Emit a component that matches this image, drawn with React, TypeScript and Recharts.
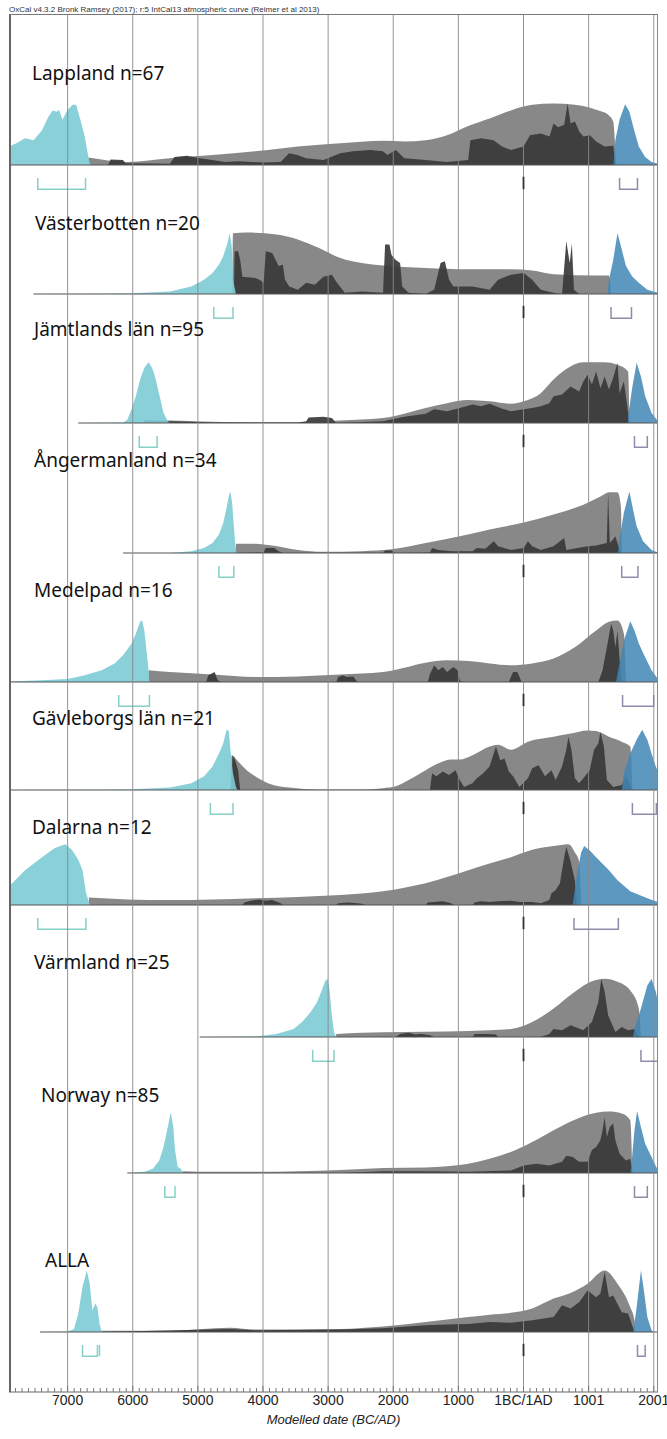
import React from "react";
import { ComposedChart, Area, Line, XAxis, YAxis, ReferenceLine } from "recharts";

type Pt = [number, number];

const W = 667;
const H = 1439;
const PLOT_LEFT = 9;
const PLOT_RIGHT = 658;
const PLOT_TOP = 14;
const PLOT_BOTTOM = 1392;
const X_MIN = -7900;
const X_MAX = 2065;
const UNIT_PX = 0.62; // px per density unit, 100 = tallest peak
const BRACKET_TOP = -21;
const BRACKET_BOTTOM = -39;

const CYAN = "#7ccbd5";
const GRAY = "#7b7b7b";
const DARK = "#383838";
const BLUE = "#3f86b4";
const CYAN_BRACKET = "#86d0c8";
const END_BRACKET = "#8d8dab";
const GRID = "#8a8a8a";
const FONT = "'Liberation Sans', Arial, sans-serif";
const LABEL_FONT = "'Noto Sans', 'Open Sans', sans-serif";

const HEADER = "OxCal v4.3.2 Bronk Ramsey (2017); r:5 IntCal13 atmospheric curve (Reimer et al 2013)";
const AXIS_TITLE = "Modelled date (BC/AD)";

const majorTicks = [-7000, -6000, -5000, -4000, -3000, -2000, -1000, 0, 1000, 2000];
const majorLabels = ["7000", "6000", "5000", "4000", "3000", "2000", "1000", "1BC/1AD", "1001", "2001"];
const minorTicks = Array.from({ length: 99 }, (_, i) => -7800 + i * 100);

// ---- Lappland
const lapplandStart: Pt[] = [[-7900, 30], [-7785, 35], [-7654, 43], [-7524, 40], [-7393, 56], [-7295, 78], [-7229, 88], [-7164, 86], [-7131, 89], [-7079, 73], [-7000, 89], [-6921, 97], [-6869, 97], [-6804, 73], [-6738, 46], [-6673, 8], [-6640, 0]];
const lapplandKde: Pt[] = [[-6680, 12], [-6084, 5], [-5429, 11], [-4775, 16], [-4120, 22], [-3466, 30], [-2812, 35], [-2157, 39], [-1830, 38], [-1503, 40], [-1175, 48], [-848, 63], [-521, 75], [-194, 88], [133, 97], [461, 99], [788, 97], [1115, 89], [1312, 80], [1377, 70], [1423, 0]];
const lapplandSpd: Pt[] = [[-6380, 0], [-6340, 9], [-6150, 8], [-6110, 3], [-5430, 2], [-5360, 13], [-5170, 15], [-4970, 11], [-4780, 8], [-4580, 5], [-4380, 6], [-3990, 4], [-3730, 5], [-3600, 19], [-3470, 16], [-3340, 11], [-3070, 8], [-2880, 16], [-2810, 19], [-2620, 22], [-2350, 24], [-2160, 22], [-2090, 16], [-1960, 24], [-1830, 11], [-1500, 8], [-1180, 5], [-850, 8], [-815, 40], [-650, 43], [-460, 40], [-330, 30], [-190, 24], [0, 30], [100, 48], [265, 51], [400, 46], [460, 67], [530, 61], [625, 65], [677, 99], [723, 67], [790, 70], [855, 54], [920, 46], [1020, 48], [1115, 38], [1245, 30], [1380, 31], [1410, 0]];
const lapplandEnd: Pt[] = [[1380, 0], [1410, 40], [1475, 73], [1560, 98], [1626, 86], [1704, 54], [1770, 30], [1868, 13], [1966, 5], [2064, 2]];

// ---- Västerbotten
const vasterbottenStart: Pt[] = [[-7524, 0], [-6084, 1], [-5429, 4], [-5102, 12], [-4905, 23], [-4775, 34], [-4677, 47], [-4611, 61], [-4546, 82], [-4513, 98], [-4480, 77], [-4460, 23], [-4415, 0]];
const vasterbottenKde: Pt[] = [[-4470, 0], [-4461, 98], [-4251, 99], [-3793, 96], [-3466, 88], [-3139, 74], [-2812, 58], [-2484, 50], [-2157, 46], [-1503, 42], [-848, 40], [-194, 40], [133, 38], [461, 32], [1115, 30], [1312, 30], [1344, 0]];
const vasterbottenSpd: Pt[] = [[-4448, 0], [-4435, 69], [-4382, 69], [-4350, 55], [-4317, 28], [-4120, 26], [-4055, 23], [-3990, 18], [-3957, 69], [-3858, 66], [-3760, 45], [-3695, 47], [-3662, 23], [-3597, 12], [-3466, 7], [-3335, 18], [-3204, 15], [-3073, 28], [-2943, 31], [-2877, 20], [-2746, 2], [-2484, 4], [-2157, 2], [-2125, 80], [-2059, 80], [-2026, 63], [-1961, 55], [-1895, 50], [-1862, 12], [-1764, 2], [-1503, 0], [-1372, 7], [-1274, 50], [-1208, 53], [-1143, 23], [-1077, 12], [-783, 12], [-521, 7], [-390, 23], [-194, 31], [3, 34], [133, 23], [265, 7], [461, 2], [592, 0], [657, 85], [710, 50], [742, 82], [775, 7], [854, 0]];
const vasterbottenEnd: Pt[] = [[1290, 0], [1312, 23], [1377, 55], [1443, 98], [1508, 72], [1573, 45], [1672, 28], [1770, 18], [1901, 7], [2064, 2]];

// ---- Jämtlands län
const jamtlandStart: Pt[] = [[-6836, 0], [-6149, 1], [-6084, 5], [-6018, 22], [-5953, 43], [-5887, 70], [-5822, 89], [-5756, 98], [-5704, 89], [-5658, 75], [-5593, 46], [-5527, 16], [-5462, 3], [-5429, 0]];
const jamtlandKde: Pt[] = [[-5822, 4], [-5429, 4], [-4775, 2], [-4120, 1], [-3466, 1], [-2812, 4], [-2157, 8], [-1830, 15], [-1503, 24], [-1175, 32], [-848, 37], [-521, 35], [-194, 31], [3, 35], [265, 48], [461, 70], [657, 87], [919, 98], [1246, 98], [1443, 94], [1606, 83], [1626, 0]];
const jamtlandSpd: Pt[] = [[-5822, 4], [-5429, 3], [-4775, 1], [-3466, 1], [-3335, 3], [-3300, 9], [-3073, 10], [-2943, 8], [-2877, 0], [-2157, 3], [-1830, 10], [-1503, 15], [-1372, 22], [-1175, 19], [-979, 24], [-783, 30], [-652, 27], [-521, 31], [-325, 23], [-194, 19], [3, 22], [133, 24], [265, 27], [396, 32], [461, 43], [592, 46], [723, 59], [854, 51], [919, 67], [984, 78], [1050, 62], [1115, 83], [1181, 56], [1246, 75], [1312, 54], [1377, 73], [1443, 97], [1475, 48], [1541, 67], [1587, 32], [1626, 0]];
const jamtlandEnd: Pt[] = [[1600, 0], [1606, 11], [1672, 59], [1737, 97], [1803, 75], [1868, 43], [1966, 16], [2064, 3]];

// ---- Ångermanland
const angermanlandStart: Pt[] = [[-6149, 0], [-5429, 0], [-5102, 3], [-4905, 8], [-4775, 16], [-4677, 30], [-4611, 48], [-4565, 70], [-4526, 91], [-4500, 99], [-4474, 81], [-4448, 43], [-4428, 16], [-4408, 0]];
const angermanlandKde: Pt[] = [[-4415, 15], [-4120, 15], [-3858, 12], [-3466, 5], [-3073, 2], [-2484, 3], [-2026, 6], [-1503, 16], [-979, 27], [-521, 38], [3, 49], [461, 62], [919, 78], [1181, 91], [1312, 98], [1443, 98], [1495, 75], [1508, 0]];
const angermanlandSpd: Pt[] = [[-4415, 0], [-3990, 1], [-3958, 8], [-3830, 8], [-3760, 3], [-3695, 0], [-2157, 0], [-2125, 4], [-2026, 4], [-1961, 0], [-1437, 1], [-1404, 8], [-1306, 5], [-1110, 3], [-783, 3], [-717, 8], [-586, 7], [-456, 19], [-390, 11], [-194, 5], [3, 8], [68, 19], [133, 11], [265, 5], [461, 11], [625, 24], [657, 5], [984, 11], [1115, 12], [1279, 16], [1299, 97], [1325, 16], [1377, 22], [1410, 27], [1443, 16], [1495, 0]];
const angermanlandEnd: Pt[] = [[1450, 0], [1475, 22], [1541, 65], [1626, 99], [1672, 75], [1737, 43], [1835, 19], [1966, 5], [2064, 1]];

// ---- Medelpad
const medelpadStart: Pt[] = [[-7900, 1], [-7393, 3], [-7000, 5], [-6738, 11], [-6476, 19], [-6280, 30], [-6149, 43], [-6018, 62], [-5953, 78], [-5887, 97], [-5855, 99], [-5822, 83], [-5789, 51], [-5756, 19], [-5743, 0]];
const medelpadKde: Pt[] = [[-5756, 19], [-5429, 16], [-4775, 12], [-4120, 8], [-3466, 9], [-2812, 12], [-2157, 16], [-1830, 23], [-1503, 31], [-1175, 35], [-848, 34], [-521, 30], [-194, 27], [133, 30], [461, 38], [788, 56], [1115, 83], [1312, 97], [1443, 99], [1541, 78], [1573, 0]];
const medelpadSpd: Pt[] = [[-4873, 0], [-4840, 11], [-4742, 16], [-4696, 3], [-4644, 0], [-2877, 0], [-2844, 8], [-2778, 11], [-2713, 8], [-2615, 9], [-2549, 0], [-1469, 0], [-1437, 13], [-1371, 27], [-1306, 19], [-1240, 24], [-1175, 16], [-1077, 24], [-1011, 19], [-979, 3], [-946, 0], [-226, 0], [-160, 16], [-95, 16], [-29, 0], [1149, 0], [1214, 19], [1280, 56], [1345, 94], [1378, 83], [1410, 56], [1443, 83], [1476, 35], [1508, 0]];
const medelpadEnd: Pt[] = [[1420, 0], [1476, 30], [1541, 67], [1639, 98], [1704, 83], [1770, 62], [1868, 40], [1966, 19], [2064, 5]];

// ---- Gävleborgs län
const gavleborgStart: Pt[] = [[-7900, 0], [-6084, 1], [-5429, 4], [-5102, 11], [-4905, 22], [-4775, 38], [-4677, 59], [-4611, 75], [-4559, 97], [-4526, 95], [-4500, 65], [-4461, 27], [-4415, 5], [-4395, 0]];
const gavleborgKde: Pt[] = [[-4500, 0], [-4480, 56], [-4382, 46], [-4251, 32], [-4120, 22], [-3924, 11], [-3597, 4], [-3139, 1], [-2484, 1], [-2157, 3], [-1961, 6], [-1764, 16], [-1503, 32], [-1306, 43], [-1110, 49], [-979, 49], [-783, 56], [-521, 70], [-390, 73], [-194, 65], [68, 78], [461, 86], [723, 91], [984, 96], [1115, 95], [1312, 86], [1508, 78], [1639, 70], [1672, 0]];
const gavleborgSpd: Pt[] = [[-4490, 0], [-4467, 56], [-4428, 48], [-4382, 32], [-4350, 0], [-1437, 0], [-1404, 27], [-1339, 22], [-1240, 30], [-1143, 24], [-1044, 32], [-979, 16], [-913, 5], [-783, 11], [-717, 19], [-619, 27], [-521, 38], [-423, 70], [-357, 48], [-292, 51], [-226, 30], [-160, 22], [-63, 5], [68, 19], [133, 35], [232, 40], [330, 22], [429, 32], [494, 16], [592, 38], [657, 65], [690, 86], [736, 65], [788, 19], [854, 11], [919, 19], [1017, 32], [1083, 65], [1149, 75], [1181, 94], [1234, 70], [1280, 16], [1378, 5], [1508, 8], [1573, 22], [1672, 0]];
const gavleborgEnd: Pt[] = [[1510, 0], [1541, 27], [1639, 59], [1737, 81], [1822, 97], [1901, 81], [1966, 59], [2031, 38], [2064, 30]];

// ---- Dalarna
const dalarnaStart: Pt[] = [[-7900, 30], [-7654, 56], [-7393, 77], [-7196, 92], [-7033, 98], [-6935, 89], [-6836, 73], [-6771, 56], [-6719, 20], [-6673, 5], [-6653, 0]];
const dalarnaKde: Pt[] = [[-6673, 12], [-6084, 9], [-5429, 8], [-4775, 9], [-4120, 11], [-3466, 13], [-2812, 16], [-2157, 22], [-1830, 28], [-1503, 35], [-1175, 45], [-848, 56], [-521, 67], [-194, 77], [133, 89], [461, 95], [690, 98], [788, 85], [854, 70], [886, 0]];
const dalarnaSpd: Pt[] = [[-4317, 0], [-4284, 4], [-4186, 7], [-4055, 9], [-3957, 7], [-3858, 8], [-3728, 3], [-3695, 0], [-2877, 0], [-2844, 3], [-2681, 4], [-2484, 2], [-2419, 0], [-1503, 0], [-1470, 4], [-1372, 5], [-1241, 6], [-1110, 3], [-1077, 0], [-783, 0], [-750, 4], [-652, 6], [-521, 5], [-390, 6], [-194, 7], [-63, 5], [133, 5], [265, 3], [396, 8], [429, 19], [494, 24], [559, 35], [625, 77], [657, 94], [723, 70], [788, 40], [821, 0]];
const dalarnaEnd: Pt[] = [[755, 0], [821, 50], [886, 85], [932, 95], [1017, 88], [1115, 77], [1312, 56], [1443, 40], [1639, 22], [1901, 11], [2064, 5]];

// ---- Värmland
const varmlandStart: Pt[] = [[-4971, 0], [-4120, 1], [-3793, 5], [-3531, 13], [-3400, 24], [-3270, 40], [-3171, 56], [-3106, 73], [-3040, 91], [-3008, 94], [-2975, 73], [-2943, 35], [-2910, 8], [-2877, 0]];
const varmlandKde: Pt[] = [[-2877, 5], [-2484, 7], [-1830, 8], [-1175, 9], [-521, 11], [-194, 13], [133, 24], [461, 46], [788, 73], [1050, 90], [1246, 94], [1443, 89], [1639, 75], [1770, 46], [1803, 0]];
const varmlandSpd: Pt[] = [[-1961, 0], [-1895, 5], [-1764, 7], [-1666, 4], [-1568, 5], [-1437, 3], [-1372, 0], [-783, 0], [-750, 5], [-586, 5], [-423, 4], [-390, 0], [265, 0], [396, 5], [461, 13], [592, 11], [723, 19], [919, 11], [1050, 24], [1148, 56], [1194, 94], [1246, 73], [1299, 35], [1344, 24], [1410, 8], [1508, 16], [1606, 11], [1704, 13], [1770, 0]];
const varmlandEnd: Pt[] = [[1680, 0], [1704, 13], [1803, 46], [1901, 83], [1966, 94], [2031, 73], [2064, 56]];

// ---- Norway
const norwayStart: Pt[] = [[-6084, 0], [-5822, 2], [-5691, 7], [-5593, 20], [-5527, 42], [-5462, 74], [-5416, 98], [-5377, 74], [-5351, 37], [-5311, 10], [-5265, 7], [-5220, 0]];
const norwayKde: Pt[] = [[-5233, 3], [-4775, 2], [-4120, 2], [-3466, 3], [-2812, 5], [-2157, 8], [-1503, 9], [-1175, 11], [-848, 15], [-521, 23], [-194, 34], [133, 50], [461, 69], [788, 86], [1115, 97], [1312, 99], [1508, 96], [1639, 85], [1672, 0]];
const norwaySpd: Pt[] = [[-2812, 0], [-2157, 3], [-1503, 3], [-848, 2], [-194, 4], [3, 12], [199, 15], [396, 12], [592, 18], [657, 28], [755, 26], [854, 18], [984, 18], [1050, 37], [1115, 42], [1181, 53], [1214, 69], [1246, 90], [1279, 58], [1325, 74], [1377, 80], [1410, 53], [1475, 31], [1573, 20], [1639, 23], [1672, 0]];
const norwayEnd: Pt[] = [[1640, 0], [1658, 15], [1704, 69], [1744, 100], [1803, 74], [1868, 47], [1966, 26], [2064, 4]];

// ---- ALLA
const allaStart: Pt[] = [[-7425, 0], [-7000, 1], [-6902, 5], [-6836, 30], [-6771, 73], [-6705, 99], [-6660, 78], [-6620, 35], [-6575, 46], [-6542, 40], [-6509, 13], [-6476, 0]];
const allaKde: Pt[] = [[-6476, 2], [-5429, 2], [-4513, 7], [-4120, 4], [-2812, 5], [-2157, 9], [-1830, 12], [-1503, 16], [-1175, 20], [-848, 24], [-521, 28], [-194, 31], [133, 38], [461, 54], [723, 63], [984, 78], [1246, 99], [1443, 78], [1639, 40], [1704, 19], [1717, 0]];
const allaSpd: Pt[] = [[-6476, 0], [-4513, 5], [-4120, 3], [-2812, 4], [-2157, 6], [-1503, 11], [-1175, 12], [-848, 13], [-521, 16], [-194, 15], [133, 19], [461, 24], [592, 43], [723, 38], [854, 48], [984, 67], [1115, 56], [1181, 62], [1246, 97], [1312, 56], [1377, 59], [1508, 32], [1606, 30], [1704, 0]];
const allaEnd: Pt[] = [[1680, 0], [1691, 5], [1737, 40], [1803, 99], [1849, 67], [1901, 24], [1966, 3], [1999, 0]];

const panelNames = ["Lappland n=67", "Västerbotten n=20", "Jämtlands län n=95", "Ångermanland n=34", "Medelpad n=16", "Gävleborgs län n=21", "Dalarna n=12", "Värmland n=25", "Norway n=85", "ALLA"];
const startRanges: Pt[] = [[-7458, -6725], [-4756, -4461], [-5900, -5626], [-4677, -4448], [-6215, -5743], [-4808, -4461], [-7458, -6719], [-3237, -2910], [-5508, -5351], [-6771, -6542]];
const endRanges: Pt[] = [[1475, 1750], [1344, 1658], [1704, 1901], [1508, 1757], [1521, 1999], [1672, 2040], [775, 1456], [1803, 2064], [1704, 1901], [1750, 1868]];
const rangeFrom = [-7900, -7524, -6836, -6149, -7900, -7900, -7900, -4971, -6084, -7425];
const extraStartTicks = [null, null, null, null, null, null, null, null, null, -6510];

const starts = [lapplandStart, vasterbottenStart, jamtlandStart, angermanlandStart, medelpadStart, gavleborgStart, dalarnaStart, varmlandStart, norwayStart, allaStart];
const kdes = [lapplandKde, vasterbottenKde, jamtlandKde, angermanlandKde, medelpadKde, gavleborgKde, dalarnaKde, varmlandKde, norwayKde, allaKde];
const spds = [lapplandSpd, vasterbottenSpd, jamtlandSpd, angermanlandSpd, medelpadSpd, gavleborgSpd, dalarnaSpd, varmlandSpd, norwaySpd, allaSpd];
const ends = [lapplandEnd, vasterbottenEnd, jamtlandEnd, angermanlandEnd, medelpadEnd, gavleborgEnd, dalarnaEnd, varmlandEnd, norwayEnd, allaEnd];

// layout (page px)
const baselines = [165, 294, 423, 553, 682, 790, 905, 1037, 1173, 1332];
const labelCenters = [73, 223, 329, 460, 590, 718, 827, 962, 1095, 1260];
const labelLefts = [32, 35, 34, 34, 34, 32, 32, 34, 41, 45];

const rows = (pts: Pt[]) => pts.map(([x, v]) => ({ x, v }));
const bracket = ([a, b]: Pt) => rows([[a, BRACKET_TOP], [a, BRACKET_BOTTOM], [b, BRACKET_BOTTOM], [b, BRACKET_TOP]]);

function AxisTick(props: any) {
  const { x, y, payload } = props;
  const i = majorTicks.indexOf(payload.value);
  return (
    <g>
      <line x1={x} x2={x} y1={y} y2={y - (i >= 0 ? 6 : 4)} stroke="#777" />
      {i >= 0 && (
        <text x={x} y={y + 13} textAnchor="middle" fontSize={14} fontFamily={FONT} fill="#222">
          {majorLabels[i]}
        </text>
      )}
    </g>
  );
}

export default function App() {
  const axisH = 30;
  return (
    <div style={{ position: "absolute", left: 0, top: 0, width: W, height: H, background: "#fff" }}>
      <ComposedChart width={W} height={H} margin={{ top: PLOT_TOP, right: W - PLOT_RIGHT, left: PLOT_LEFT, bottom: H - PLOT_BOTTOM - axisH }}>
        <XAxis dataKey="x" type="number" domain={[X_MIN, X_MAX]} allowDataOverflow ticks={minorTicks} interval={0} tickLine={false} tickSize={0} tickMargin={0} height={axisH} tick={<AxisTick />} axisLine={{ stroke: "#666" }} />
        {baselines.map((b, i) => (
          <YAxis key={"y" + i} yAxisId={"p" + i} hide type="number" allowDataOverflow domain={[-(PLOT_BOTTOM - b) / UNIT_PX, (b - PLOT_TOP) / UNIT_PX]} />
        ))}
        {baselines.map((_, i) => {
          const id = "p" + i;
          return (
            <React.Fragment key={"panel" + i}>
              <Area yAxisId={id} data={rows(kdes[i])} dataKey="v" type="monotone" baseValue={0} fill={GRAY} fillOpacity={0.9} stroke="none" isAnimationActive={false} />
              <Area yAxisId={id} data={rows(spds[i])} dataKey="v" type="linear" baseValue={0} fill={DARK} fillOpacity={0.92} stroke="none" isAnimationActive={false} />
              <Area yAxisId={id} data={rows(starts[i])} dataKey="v" type="linear" baseValue={0} fill={CYAN} fillOpacity={0.9} stroke="none" isAnimationActive={false} />
              <Area yAxisId={id} data={rows(ends[i])} dataKey="v" type="linear" baseValue={0} fill={BLUE} fillOpacity={0.85} stroke="none" isAnimationActive={false} />
              <Line yAxisId={id} data={rows([[rangeFrom[i], 0], [X_MAX, 0]])} dataKey="v" stroke="#555" strokeWidth={1} dot={false} isAnimationActive={false} />
              <Line yAxisId={id} data={bracket(startRanges[i])} dataKey="v" stroke={CYAN_BRACKET} strokeWidth={1.5} dot={false} isAnimationActive={false} />
              <Line yAxisId={id} data={bracket(endRanges[i])} dataKey="v" stroke={END_BRACKET} strokeWidth={1.5} dot={false} isAnimationActive={false} />
              {extraStartTicks[i] != null && (
                <Line yAxisId={id} data={rows([[extraStartTicks[i] as number, BRACKET_TOP], [extraStartTicks[i] as number, BRACKET_BOTTOM]])} dataKey="v" stroke={CYAN_BRACKET} strokeWidth={1.5} dot={false} isAnimationActive={false} />
              )}
            </React.Fragment>
          );
        })}
        {majorTicks.map((t) => (
          <ReferenceLine key={"g" + t} x={t} yAxisId="p0" stroke={GRID} strokeWidth={1} strokeOpacity={0.9} />
        ))}
        {baselines.map((_, i) => (
          <ReferenceLine key={"z" + i} yAxisId={"p" + i} segment={[{ x: 0, y: BRACKET_TOP + 2 }, { x: 0, y: BRACKET_BOTTOM }]} stroke="#333" strokeWidth={1.8} />
        ))}
      </ComposedChart>
      <div style={{ position: "absolute", left: PLOT_LEFT, top: PLOT_TOP, width: PLOT_RIGHT - PLOT_LEFT, height: PLOT_BOTTOM - PLOT_TOP, borderTop: "1px solid #777", borderLeft: "2px solid #666", borderRight: "1px solid #888", boxSizing: "border-box", pointerEvents: "none" }} />
      <svg width={W} height={H} style={{ position: "absolute", left: 0, top: 0, pointerEvents: "none" }}>
        <text x={PLOT_LEFT} y={12} fontSize={8} fontFamily={FONT} fill="#333">{HEADER}</text>
        {panelNames.map((n, i) => (
          <text key={n} x={labelLefts[i]} y={labelCenters[i] + 7} fontSize={19} fontFamily={LABEL_FONT} fill="#111">{n}</text>
        ))}
        <text x={(PLOT_LEFT + PLOT_RIGHT) / 2} y={1424} textAnchor="middle" fontSize={13} fontStyle="italic" fontFamily={FONT} fill="#222">{AXIS_TITLE}</text>
      </svg>
    </div>
  );
}
